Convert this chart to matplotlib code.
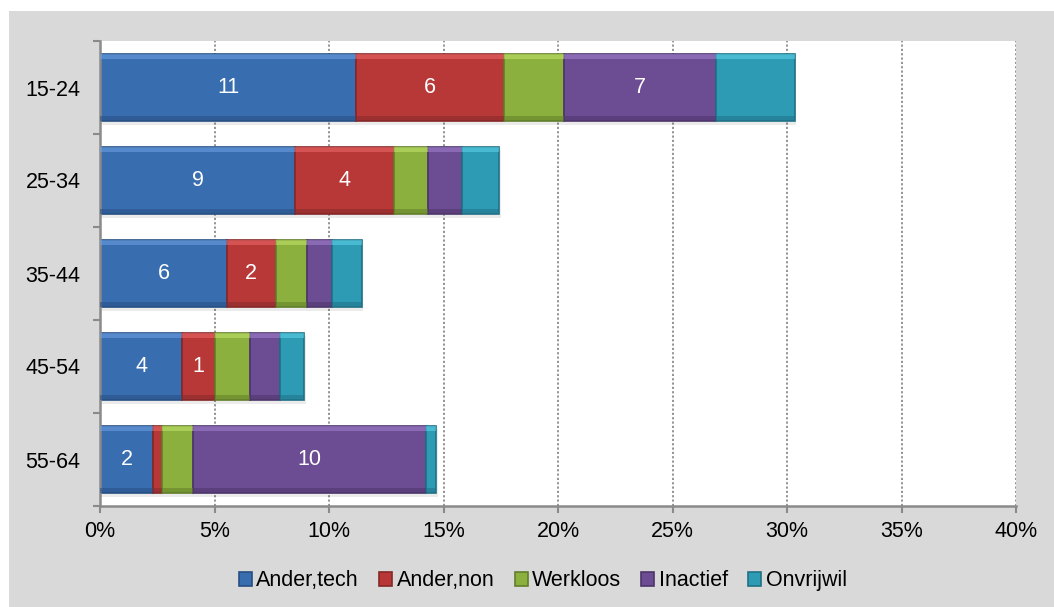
import matplotlib
matplotlib.use("Agg")
import matplotlib.pyplot as plt
from matplotlib.patches import Rectangle
import numpy as np

plt.rcParams['font.family'] = ['Liberation Sans', 'DejaVu Sans']

groups = ['15-24', '25-34', '35-44', '45-54', '55-64']
series = ['Ander,tech', 'Ander,non', 'Werkloos', 'Inactief', 'Onvrijwil']

# shares in % of each age group
ander_tech = [11.18, 8.53, 5.55, 3.60, 2.32]
ander_non = [6.45, 4.33, 2.12, 1.42, 0.39]
werkloos = [2.64, 1.45, 1.35, 1.51, 1.34]
inactief = [6.61, 1.49, 1.13, 1.33, 10.18]
onvrijwil = [3.46, 1.64, 1.28, 1.07, 0.45]

# labels printed inside the segments ('' = no label)
lab_tech = ['11', '9', '6', '4', '2']
lab_non = ['6', '4', '2', '1', '']
lab_werk = ['', '', '', '', '']
lab_inact = ['7', '', '', '', '10']
lab_onvr = ['', '', '', '', '']

values = [ander_tech, ander_non, werkloos, inactief, onvrijwil]
labels = [lab_tech, lab_non, lab_werk, lab_inact, lab_onvr]
colors = ['#386db0', '#b83838', '#8bb03d', '#6c4c93', '#2e9bb5']
lights = ['#6fa3e6', '#ee6a6a', '#c4e56e', '#a584d2', '#5fd4ea']
darks = ['#284f82', '#862828', '#627e2a', '#4d356a', '#1f7186']

FS = 15.5

fig = plt.figure(figsize=(10.54, 6.07), dpi=100)
fig.patches.append(Rectangle((9 / 1054, 0), 1, 1 - 11 / 607, transform=fig.transFigure,
                             facecolor='#d9d9d9', edgecolor='none', zorder=-10))
ax = fig.add_axes([100 / 1054, 1 - 506 / 607, 916 / 1054, 465 / 607])
ax.set_facecolor('white')

y = np.arange(len(groups))
h = 0.73
left = np.zeros(len(groups))
for vals, labs, c, lc, dc, name in zip(values, labels, colors, lights, darks, series):
    vals = np.array(vals)
    # soft shadow
    ax.barh(y + 0.035, vals, height=h, left=left + 0.06, color='#000000', alpha=0.08,
            edgecolor='none', zorder=1)
    ax.barh(y, vals, height=h, left=left, color=c, edgecolor=dc, linewidth=1.2,
            zorder=2, label=name)
    # bevel highlight on top, darker band at bottom
    ax.barh(y - h / 2 + 0.035, vals, height=0.05, left=left, color=lc, alpha=0.55,
            edgecolor='none', zorder=3)
    ax.barh(y + h / 2 - 0.035, vals, height=0.05, left=left, color=dc, alpha=0.55,
            edgecolor='none', zorder=3)
    for yi, l0, v, t in zip(y, left, vals, labs):
        if t:
            ax.text(l0 + v / 2, yi, t, ha='center', va='center', color='white',
                    fontsize=FS, zorder=4)
    left = left + vals

ax.set_xlim(0, 40)
ax.set_ylim(len(groups) - 0.5, -0.5)
ax.set_xticks(np.arange(0, 41, 5))
ax.set_xticklabels(['%d%%' % v for v in range(0, 41, 5)], fontsize=FS)
ax.set_yticks(np.arange(-0.5, len(groups), 1))
ax.set_yticklabels([])
ax.set_yticks(y, minor=True)
ax.set_yticklabels(groups, minor=True, fontsize=FS)
ax.tick_params(axis='y', which='major', length=5, width=1.5, color='#8a8a8a')
ax.tick_params(axis='y', which='minor', length=0, pad=14)
ax.tick_params(axis='x', length=5, width=1.5, color='#8a8a8a', pad=6)

ax.xaxis.grid(True, linestyle=(0, (1.2, 1.2)), color='#8c8c8c', linewidth=1.3)
ax.set_axisbelow(True)
for s in ['top', 'right']:
    ax.spines[s].set_visible(False)
for s in ['left', 'bottom']:
    ax.spines[s].set_color('#8a8a8a')
    ax.spines[s].set_linewidth(1.8)

leg = fig.legend(loc='center', bbox_to_anchor=(0.515, 0.043), ncol=5, frameon=False,
                 fontsize=FS, handlelength=0.6, handleheight=0.6, handletextpad=0.2,
                 columnspacing=0.95)

fig.savefig('out.png', dpi=100)
